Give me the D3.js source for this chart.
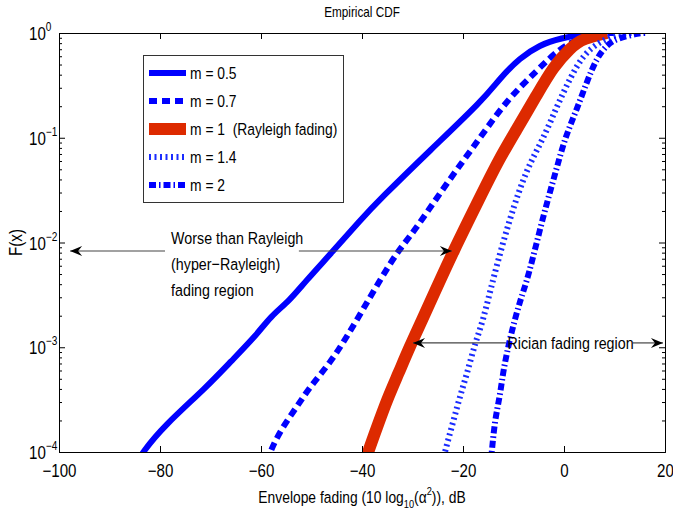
<!DOCTYPE html>
<html>
<head>
<meta charset="utf-8">
<script src="https://cdn.jsdelivr.net/npm/d3@7"></script>
<style>
  body { margin: 0; background: #fff; }
  svg { font-family: "Liberation Sans", Arial, sans-serif; }
  text { white-space: pre; }
</style>
</head>
<body>
<svg id="chart" width="673" height="519"></svg>
<script>
// values (x in dB, F(x))
const xTicks = [-100, -80, -60, -40, -20, 0, 20];
const yTickExp = [0, -1, -2, -3, -4];

const m05x = [-84.5, -83.4, -79.4, -70.7, -66.1, -60.8, -58.2, -54.3, -51.3, -45.7, -40.4, -36.4, -26.5, -16.0, -12.7, -8.7, -4.8, -0.8, 5.1, 8];
const m05y = [0.00008, 0.0001, 0.000174, 0.00042, 0.00072, 0.00132, 0.00195, 0.0028, 0.0042, 0.0083, 0.0162, 0.026, 0.076, 0.23, 0.37, 0.58, 0.77, 0.89, 1, 1];

const m07x = [-58.8, -58.2, -56.2, -52.9, -50.3, -46.3, -43.0, -39.8, -36.4, -32.9, -29.9, -23.2, -16.6, -11.3, -5.3, -0.8, 3.2, 7.1, 10];
const m07y = [0.00008, 0.0001, 0.00016, 0.00027, 0.00042, 0.00071, 0.00126, 0.0023, 0.0044, 0.0083, 0.0123, 0.037, 0.10, 0.23, 0.44, 0.72, 0.89, 1, 1];

const m1x = [-39.4, -38.8, -37.0, -35.0, -32.8, -30.6, -28.2, -25.8, -21.9, -16.8, -12.9, -9.5, -5.3, -2.2, 1.2, 3.8, 8.5];
const m1y = [0.00008, 0.0001, 0.000174, 0.00032, 0.00056, 0.001, 0.00178, 0.0032, 0.0083, 0.026, 0.062, 0.117, 0.26, 0.47, 0.72, 0.89, 1];

const m14x = [-24.0, -23.6, -22.0, -20.6, -19.2, -17.6, -16.0, -14.1, -10.7, -7.3, -4.2, -1.4, 1.2, 3.8, 7.1, 11.1, 14];
const m14y = [0.00008, 0.0001, 0.00019, 0.00034, 0.00056, 0.0011, 0.0018, 0.0044, 0.0174, 0.052, 0.095, 0.20, 0.37, 0.62, 0.83, 1, 1];

const m2x = [-14.5, -14.3, -13.7, -12.7, -12.1, -11.3, -10.3, -8.7, -7.1, -4.2, -1.4, 0.2, 2.6, 4.6, 6.5, 8.5, 10.5, 15.0, 16.5];
const m2y = [0.00008, 0.0001, 0.0002, 0.00034, 0.00056, 0.00089, 0.00145, 0.0028, 0.0046, 0.0174, 0.052, 0.10, 0.19, 0.35, 0.58, 0.77, 0.89, 1, 1];

const seriesNames = ["m = 0.5", "m = 0.7", "m = 1  (Rayleigh fading)", "m = 1.4", "m = 2"];

const series = [
    {name: seriesNames[0], xs: m05x, ys: m05y, color: "#0000ff", width: 6, dash: null},
    {name: seriesNames[1], xs: m07x, ys: m07y, color: "#0000ff", width: 6, dash: "8,5"},
    {name: seriesNames[2], xs: m1x, ys: m1y, color: "#dd2a00", width: 12, dash: null},
    {name: seriesNames[3], xs: m14x, ys: m14y, color: "#1a2cff", width: 6, dash: "2,3.5"},
    {name: seriesNames[4], xs: m2x, ys: m2y, color: "#0000ff", width: 6, dash: "7,3,1.5,3"}
];

const SX = 0.84; //narrow text, like the reference's squeezed Helvetica

const svg = d3.select("#chart");
const margin = {left: 59, right: 8, top: 33, bottom: 67};
const width = 673, height = 519;

const x = d3.scaleLinear().domain([-100, 20]).range([margin.left, width - margin.right]);
const y = d3.scaleLog().domain([1e-4, 1]).range([height - margin.bottom, margin.top]);

function label(g, px, py, str, size, anchor) {
    return g.append("text")
        .attr("transform", `translate(${px},${py}) scale(${SX},1)`)
        .attr("text-anchor", anchor || "start")
        .style("font-size", size + "px")
        .text(str);
}

svg.append("defs").append("clipPath").attr("id", "clip")
    .append("rect")
    .attr("x", x(-100)).attr("y", y(1))
    .attr("width", x(20) - x(-100)).attr("height", y(1e-4) - y(1));

//title
label(svg, (x(-100) + x(20)) / 2, 17, "Empirical CDF", 14, "middle");

//curves
const line = d3.line()
    .x(d => x(d[0]))
    .y(d => y(d[1]))
    .curve(d3.curveBasis);

const curves = svg.append("g").attr("clip-path", "url(#clip)");
series.forEach(s => {
    curves.append("path")
        .datum(s.xs.map((v, i) => [v, s.ys[i]]))
        .attr("d", line)
        .attr("fill", "none")
        .attr("stroke", s.color)
        .attr("stroke-width", s.width)
        .attr("stroke-dasharray", s.dash)
        .attr("stroke-linejoin", "round");
});

//axes (ticks inward, box)
const bottomAxis = svg.append("g")
    .attr("transform", `translate(0,${y(1e-4)})`)
    .call(d3.axisBottom(x).tickValues(xTicks).tickSize(-6).tickPadding(12).tickFormat(d3.format("d")));
bottomAxis.selectAll("text")
    .style("font-size", "18px").style("font-family", "Liberation Sans, Arial, sans-serif")
    .attr("fill", "#000").attr("transform", `scale(${SX},1)`);

svg.append("g")
    .attr("transform", `translate(0,${y(1)})`)
    .call(d3.axisTop(x).tickValues(xTicks).tickSize(-6).tickFormat(""));

const minorY = [];
for (let e = -4; e < 0; e++) for (let k = 2; k <= 9; k++) minorY.push(k * Math.pow(10, e));
const majorY = yTickExp.map(e => Math.pow(10, e));

[[d3.axisLeft, x(-100)], [d3.axisRight, x(20)]].forEach(([ax, px]) => {
    svg.append("g").attr("transform", `translate(${px},0)`)
        .call(ax(y).tickValues(majorY).tickSize(-6).tickFormat(""));
    svg.append("g").attr("transform", `translate(${px},0)`)
        .call(ax(y).tickValues(minorY).tickSize(-3).tickFormat(""))
        .select(".domain").remove();
});

svg.selectAll(".domain").attr("stroke", "#000");
svg.selectAll(".tick line").attr("stroke", "#000");

//y tick labels with exponents
yTickExp.forEach(e => {
    const t = label(svg, 29, y(Math.pow(10, e)) + 7, "10", 18);
    t.append("tspan").attr("dy", -9).style("font-size", "12px")
        .text(e === 0 ? "0" : "\u2212" + (-e));
});

//axis labels
svg.append("text")
    .attr("transform", `translate(22,${(y(1) + y(1e-4)) / 2}) rotate(-90) scale(${SX},1)`)
    .attr("text-anchor", "middle")
    .style("font-size", "18px")
    .text("F(x)");

const xl = label(svg, (x(-100) + x(20)) / 2, 503, "Envelope fading (10 log", 16.5, "middle");
xl.append("tspan").attr("dy", 5).style("font-size", "11px").text("10");
xl.append("tspan").attr("dy", -5).text("(\u03b1");
xl.append("tspan").attr("dy", -8).style("font-size", "11px").text("2");
xl.append("tspan").attr("dy", 8).text(")), dB");

//annotations
function arrowHead(g, tx, ty, dir) {
    g.append("path")
        .attr("d", `M${tx},${ty} L${tx + dir * 12},${ty - 5} L${tx + dir * 8},${ty} L${tx + dir * 12},${ty + 5} Z`)
        .attr("fill", "#000");
}

const ann = svg.append("g");
const yA = y(0.0083);
ann.append("line").attr("x1", x(-97.8)).attr("x2", x(-79)).attr("y1", yA).attr("y2", yA)
    .attr("stroke", "#444").attr("stroke-width", 1.2);
ann.append("line").attr("x1", x(-52.5)).attr("x2", x(-22.2)).attr("y1", yA).attr("y2", yA)
    .attr("stroke", "#444").attr("stroke-width", 1.2);
arrowHead(ann, x(-97.8), yA, 1);
arrowHead(ann, x(-22.2), yA, -1);
["Worse than Rayleigh", "(hyper\u2212Rayleigh)", "fading region"].forEach((t, i) => {
    label(ann, x(-77.8), 244 + i * 26, t, 17);
});

const yR = y(0.0011);
ann.append("line").attr("x1", x(-29.9)).attr("x2", x(-11.5)).attr("y1", yR).attr("y2", yR)
    .attr("stroke", "#444").attr("stroke-width", 1.2);
ann.append("line").attr("x1", x(13.6)).attr("x2", x(19.6)).attr("y1", yR).attr("y2", yR)
    .attr("stroke", "#444").attr("stroke-width", 1.2);
arrowHead(ann, x(-29.9), yR, 1);
arrowHead(ann, x(19.6), yR, -1);
label(ann, x(-11.2), yR + 6, "Rician fading region", 17);

//legend
const leg = svg.append("g");
leg.append("rect")
    .attr("x", 143.5).attr("y", 55.5).attr("width", 200).attr("height", 147)
    .attr("fill", "#fff").attr("stroke", "#333").attr("stroke-width", 1);
series.forEach((s, i) => {
    const ly = 73 + i * 28;
    leg.append("line")
        .attr("x1", 149).attr("x2", 186).attr("y1", ly).attr("y2", ly)
        .attr("stroke", s.color).attr("stroke-width", s.width)
        .attr("stroke-dasharray", s.dash);
    label(leg, 190, ly + 6, s.name, 16.5);
});
</script>
</body>
</html>
